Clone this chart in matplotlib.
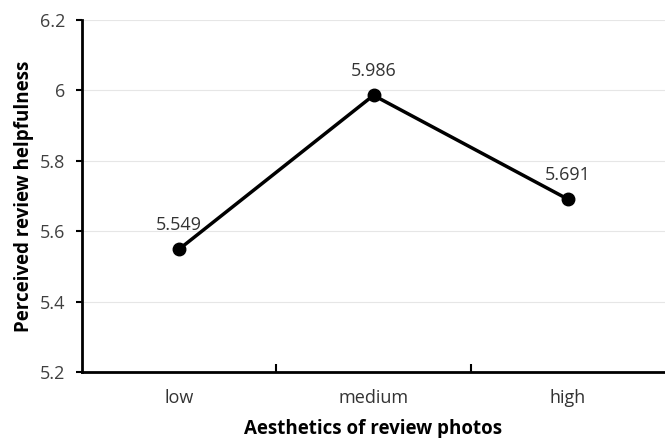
import matplotlib
matplotlib.use("Agg")
import matplotlib.pyplot as plt
import numpy as np

categories = ["low", "medium", "high"]
values = [5.549, 5.986, 5.691]
yticks = [5.2, 5.4, 5.6, 5.8, 6.0, 6.2]
ytick_labels = ["5.2", "5.4", "5.6", "5.8", "6", "6.2"]

plt.rcParams['font.family'] = ['Open Sans', 'DejaVu Sans']

fig = plt.figure(figsize=(6.65, 4.38), dpi=100)
ax = fig.add_axes([82/665, 66/438, (665-82)/665, (372-20)/438])

x = np.arange(len(categories))
ax.plot(x, values, color='black', lw=2.5, marker='o', markersize=9, zorder=3, clip_on=False)
for xi, v in zip(x, values):
    ax.annotate(f"{v:.3f}", (xi, v), xytext=(0, 11), textcoords='offset points',
                ha='center', va='bottom', fontsize=13, color='#333333')

ax.set_xlim(-0.5, len(categories) - 0.5)
ax.set_ylim(5.2, 6.2)
ax.set_yticks(yticks)
ax.set_yticklabels(ytick_labels, fontsize=13, color='#404040')
ax.yaxis.grid(True, color='#e6e6e6', lw=0.8)
ax.set_axisbelow(True)

ax.set_xticks(x)
ax.set_xticklabels(categories, fontsize=13, color='#333333')
ax.set_xticks(np.arange(0.5, len(categories) - 0.5, 1.0), minor=True)
ax.tick_params(axis='x', which='major', length=0, pad=12)
ax.tick_params(axis='x', which='minor', direction='in', length=6, width=1.5, color='black')
ax.tick_params(axis='y', direction='out', length=4, width=1.5, color='black', pad=8)

for s in ['top', 'right']:
    ax.spines[s].set_visible(False)
for s in ['left', 'bottom']:
    ax.spines[s].set_linewidth(2)
    ax.spines[s].set_color('black')

ax.set_xlabel("Aesthetics of review photos", fontsize=13.5, fontweight='bold', labelpad=9)
ax.set_ylabel("Perceived review helpfulness", fontsize=13.5, fontweight='bold', labelpad=4)

fig.savefig("out.png", dpi=100)
